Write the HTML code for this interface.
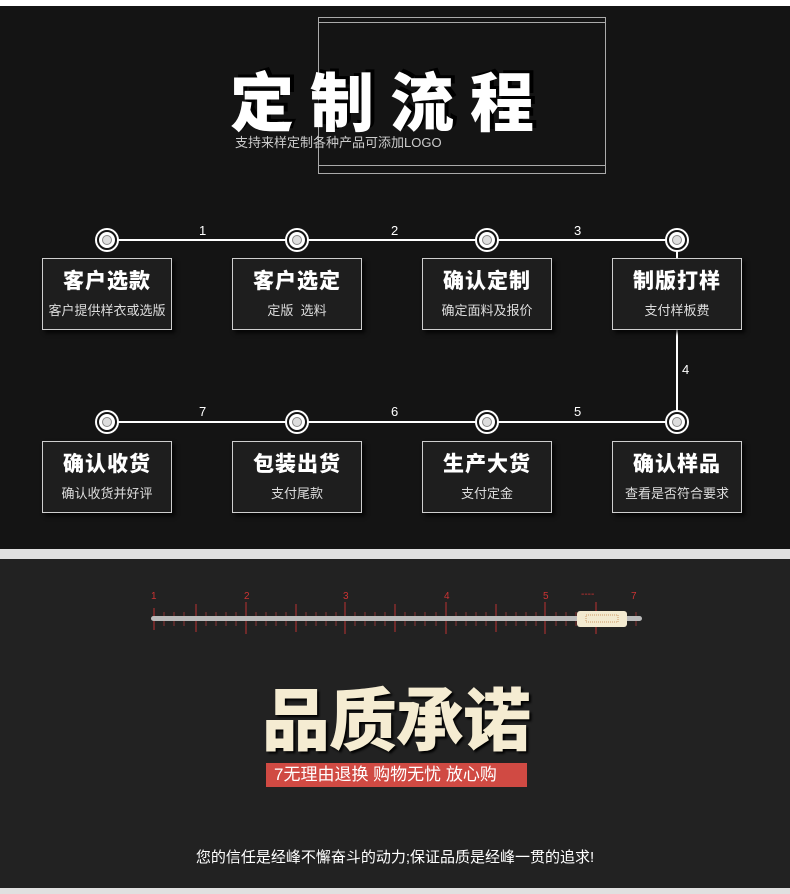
<!DOCTYPE html>
<html><head><meta charset="utf-8"><style>
*{margin:0;padding:0;box-sizing:border-box}
body{width:790px;height:894px;background:#fff;position:relative;overflow:hidden;font-family:"Liberation Sans","Noto Sans CJK SC",sans-serif}
.a{position:absolute}
.box{position:absolute;width:130px;height:72px;background:#1e1e1e;border:1px solid #cfcfcf;box-shadow:3px 3px 4px rgba(0,0,0,.8);text-align:center;color:#fff}
.box b{display:block;font-size:21px;font-weight:900;margin-top:10px;letter-spacing:1px;line-height:26px}
.box span{display:block;font-size:13px;color:#ddd;margin-top:5px;white-space:nowrap}
.c{position:absolute;width:20px;height:20px;border-radius:50%;background:#fff;border:2px solid #141414;box-shadow:0 0 0 2px #fff}
.c::after{content:"";position:absolute;left:3px;top:3px;width:10px;height:10px;border-radius:50%;background:#ddd;border:1px solid #888;box-sizing:border-box}
.n{position:absolute;color:#fff;font-size:13px}
.r{position:absolute;color:#c33;font-size:10px}
</style></head><body>
<div class="a" style="left:0;top:6px;width:790px;height:543px;background:#141414"></div>
<div class="a" style="left:0;top:549px;width:790px;height:10px;background:#e0e0e0"></div>
<div class="a" style="left:0;top:559px;width:790px;height:329px;background:#222"></div>
<div class="a" style="left:0;top:888px;width:790px;height:6px;background:#e0e0e0"></div>
<div class="a" style="left:318px;top:17px;width:288px;height:157px;border:1px solid #aaa"></div>
<div class="a" style="left:318px;top:22px;width:288px;height:1px;background:#aaa"></div>
<div class="a" style="left:318px;top:165px;width:288px;height:1px;background:#aaa"></div>
<div class="a" style="left:230px;top:68px;font-size:64px;font-weight:900;color:#fff;letter-spacing:16px;line-height:72px;white-space:nowrap;text-shadow:4px -3px 0 #000">定制流程</div>
<div class="a" style="left:235px;top:132px;font-size:13px;color:#ccc">支持来样定制各种产品可添加LOGO</div>
<div class="a" style="left:107px;top:239px;width:570px;height:2px;background:#fff"></div>
<div class="a" style="left:107px;top:421px;width:570px;height:2px;background:#fff"></div>
<div class="a" style="left:676px;top:240px;width:2px;height:182px;background:#fff"></div>
<div class="c" style="left:97px;top:230px"></div><div class="c" style="left:287px;top:230px"></div><div class="c" style="left:477px;top:230px"></div><div class="c" style="left:667px;top:230px"></div>
<div class="c" style="left:97px;top:412px"></div><div class="c" style="left:287px;top:412px"></div><div class="c" style="left:477px;top:412px"></div><div class="c" style="left:667px;top:412px"></div>
<div class="n" style="left:199px;top:223px">1</div><div class="n" style="left:391px;top:223px">2</div><div class="n" style="left:574px;top:223px">3</div>
<div class="n" style="left:682px;top:362px">4</div>
<div class="n" style="left:199px;top:404px">7</div><div class="n" style="left:391px;top:404px">6</div><div class="n" style="left:574px;top:404px">5</div>
<div class="box" style="left:42px;top:258px"><b>客户选款</b><span>客户提供样衣或选版</span></div>
<div class="box" style="left:232px;top:258px"><b>客户选定</b><span>定版&nbsp;&nbsp;选料</span></div>
<div class="box" style="left:422px;top:258px"><b>确认定制</b><span>确定面料及报价</span></div>
<div class="box" style="left:612px;top:258px"><b>制版打样</b><span>支付样板费</span></div>
<div class="box" style="left:42px;top:441px"><b>确认收货</b><span>确认收货并好评</span></div>
<div class="box" style="left:232px;top:441px"><b>包装出货</b><span>支付尾款</span></div>
<div class="box" style="left:422px;top:441px"><b>生产大货</b><span>支付定金</span></div>
<div class="box" style="left:612px;top:441px"><b>确认样品</b><span>查看是否符合要求</span></div>
<svg class="a" style="left:140px;top:590px" width="520" height="50">
<g stroke="#b33" stroke-width="1">
<line x1="14" y1="18" x2="14" y2="40"/><line x1="106" y1="12" x2="106" y2="44"/><line x1="205" y1="12" x2="205" y2="44"/><line x1="306" y1="12" x2="306" y2="44"/><line x1="405" y1="12" x2="405" y2="44"/><line x1="456" y1="12" x2="456" y2="44"/>
<line x1="56" y1="14" x2="56" y2="42"/><line x1="156" y1="14" x2="156" y2="42"/><line x1="255" y1="14" x2="255" y2="42"/><line x1="356" y1="14" x2="356" y2="42"/>
</g>
<g stroke="#833" stroke-width="1">
<path d="M24 22v14M34 22v14M44 22v14M66 22v14M76 22v14M86 22v14M96 22v14M116 22v14M126 22v14M136 22v14M146 22v14M166 22v14M176 22v14M186 22v14M196 22v14M215 22v14M225 22v14M235 22v14M245 22v14M265 22v14M275 22v14M285 22v14M296 22v14M316 22v14M326 22v14M336 22v14M346 22v14M366 22v14M376 22v14M386 22v14M396 22v14M416 22v14M426 22v14M436 22v14M446 22v14M466 22v14M476 22v14M486 22v14M496 22v14"/>
</g>
<rect x="11" y="26" width="491" height="5" rx="2.5" fill="#bbb"/>
<rect x="437" y="21" width="50" height="16" rx="3" fill="#f3ead0"/>
<rect x="446" y="25" width="32" height="7" fill="none" stroke="#c96" stroke-dasharray="1 1"/>
</svg>
<div class="r" style="left:151px;top:591px">1</div><div class="r" style="left:244px;top:591px">2</div><div class="r" style="left:343px;top:591px">3</div><div class="r" style="left:444px;top:591px">4</div><div class="r" style="left:543px;top:591px">5</div><div class="r" style="left:581px;top:589px">----</div><div class="r" style="left:631px;top:591px">7</div>
<div class="a" style="left:262px;top:682px;font-size:68px;font-weight:900;color:#f5ecd2;letter-spacing:-1px;line-height:80px;text-shadow:2px 2px 2px #000">品质承诺</div>
<div class="a" style="left:266px;top:763px;width:261px;height:24px;background:#d04a43;color:#fff;font-size:17px;line-height:24px;padding-left:8px;white-space:nowrap">7无理由退换 购物无忧 放心购</div>
<div class="a" style="left:0;top:846px;width:790px;text-align:center;color:#fff;font-size:15px">您的信任是经峰不懈奋斗的动力;保证品质是经峰一贯的追求!</div>
</body></html>
